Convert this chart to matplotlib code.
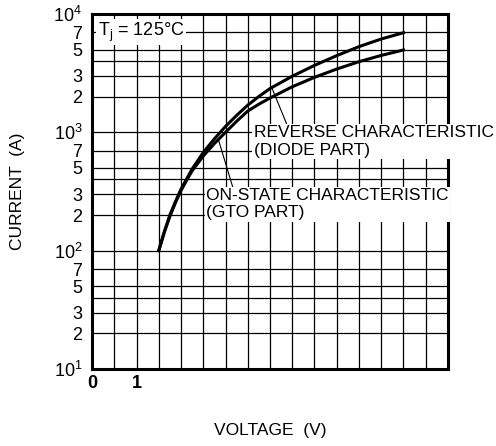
import numpy as np
import matplotlib
matplotlib.use("Agg")
import matplotlib.pyplot as plt

plt.rcParams['font.family'] = ['Liberation Sans', 'DejaVu Sans']
plt.rcParams['mathtext.fontset'] = 'custom'
plt.rcParams['mathtext.rm'] = 'Liberation Sans'
plt.rcParams['mathtext.it'] = 'Liberation Sans:italic'

# forward voltage (V) vs current (A), Tj = 125 C
volt = [1.5, 1.625, 1.75, 1.875, 2.0, 2.125, 2.25, 2.5, 2.75, 3.0, 3.25, 3.5, 3.75, 4.0,
        4.5, 5.0, 5.5, 6.0, 6.5, 7.0]
i_reverse = [100, 145, 200, 260, 331, 403, 490, 676, 881, 1122, 1390, 1698, 2010, 2344,
             2980, 3680, 4450, 5300, 6150, 6950]
i_onstate = [100, 143, 195, 254, 322, 392, 473, 631, 804, 1000, 1240, 1514, 1730, 1950,
             2427, 2917, 3428, 3954, 4467, 4966]

ytick_vals = [10, 20, 30, 50, 70, 100, 200, 300, 500, 700, 1000, 2000, 3000, 5000, 7000, 10000]
ytick_txt = [r'$10^1$', '2', '3', '5', '7', r'$10^2$', '2', '3', '5', '7',
             r'$10^3$', '2', '3', '5', '7', r'$10^4$']
ygrid = [20, 30, 40, 50, 70, 100, 200, 300, 400, 500, 700, 1000,
         2000, 3000, 4000, 5000, 7000]

fig = plt.figure(figsize=(4.96, 4.46), dpi=100)
ax = fig.add_axes([0.1855, 0.1726, 0.7177, 0.796])

ax.set_yscale('log')
ax.set_xlim(0, 8)
ax.set_ylim(10, 10000)

# grid
for v in np.arange(0.5, 8, 0.5):
    ax.axvline(v, color='black', lw=0.9, zorder=1)
for g in ygrid:
    ax.axhline(g, color='black', lw=0.9, zorder=1)

ax.plot(volt, i_reverse, color='black', lw=2.2, zorder=3)
ax.plot(volt, i_onstate, color='black', lw=2.2, zorder=3)

for s in ax.spines.values():
    s.set_linewidth(2.2)

ax.set_yticks(ytick_vals)
ax.set_yticklabels(ytick_txt)
ax.yaxis.set_minor_locator(matplotlib.ticker.NullLocator())
ax.set_xticks([0, 1])
ax.set_xticklabels(['0', '1'], fontweight='bold')
ax.tick_params(length=0, labelsize=13)
ax.tick_params(axis='y', pad=7)
ax.tick_params(axis='x', pad=4)

ax.set_xlabel('VOLTAGE  (V)', fontsize=12.5)
ax.set_ylabel('CURRENT  (A)', fontsize=12.5)
ax.xaxis.set_label_coords(0.5, -0.152)
ax.yaxis.set_label_coords(-0.188, 0.5)

box = dict(facecolor='white', edgecolor='none', pad=1)
ax.text(0.13, 7000, r'T$_\mathrm{j}$ = 125°C', fontsize=13, ha='left', va='center',
        bbox=box, zorder=4)

def on_curve(v, cur):
    return v, 10 ** np.interp(v, volt, np.log10(cur))

ax.annotate('REVERSE CHARACTERISTIC\n(DIODE PART)', xy=on_curve(4.04, i_reverse),
            xytext=(3.63, 1150), fontsize=12.5, ha='left', va='top',
            bbox=box, annotation_clip=False, zorder=5,
            arrowprops=dict(arrowstyle='-', lw=0.8, color='black',
                            shrinkA=0, shrinkB=0, relpos=(0.14, 1.0)))
ax.annotate('ON-STATE CHARACTERISTIC\n(GTO PART)', xy=on_curve(2.84, i_onstate),
            xytext=(2.57, 338), fontsize=12.5, ha='left', va='top',
            bbox=box, annotation_clip=False, zorder=5,
            arrowprops=dict(arrowstyle='-', lw=0.8, color='black',
                            shrinkA=0, shrinkB=0, relpos=(0.11, 1.0)))

fig.savefig('out.png', dpi=100)
